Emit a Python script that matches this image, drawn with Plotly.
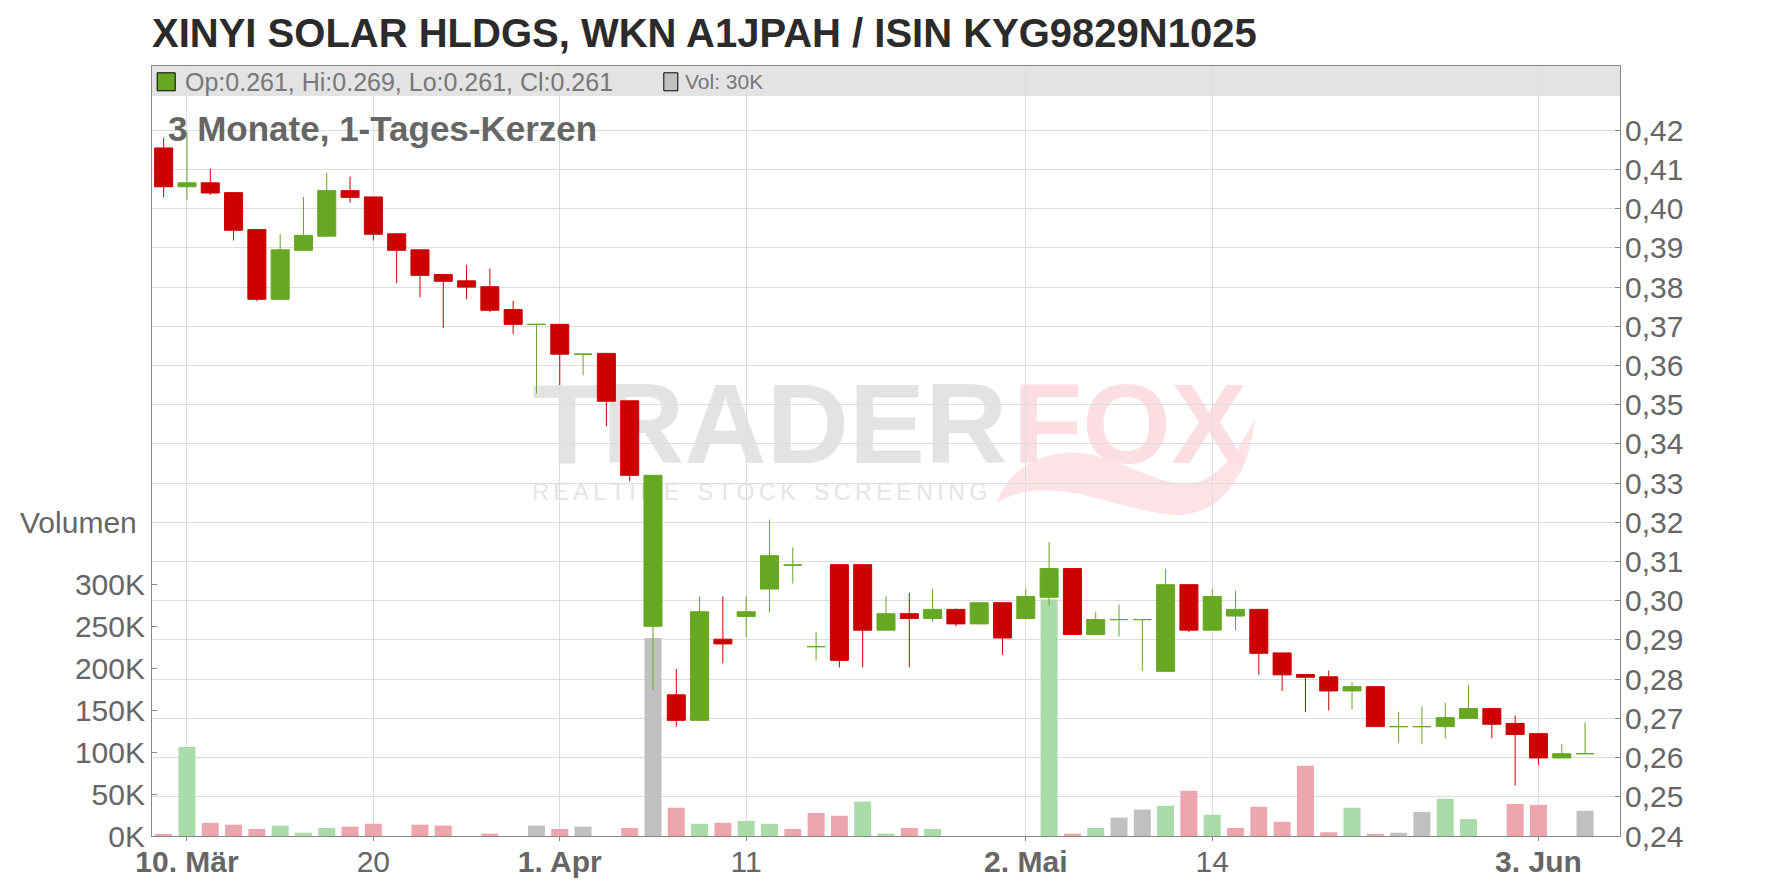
import plotly.graph_objects as go

# ---------------- data ----------------
dates = [
    "2025-03-07", "2025-03-10", "2025-03-11", "2025-03-12", "2025-03-13", "2025-03-14",
    "2025-03-17", "2025-03-18", "2025-03-19", "2025-03-20", "2025-03-21",
    "2025-03-24", "2025-03-25", "2025-03-26", "2025-03-27", "2025-03-28",
    "2025-03-31", "2025-04-01", "2025-04-02", "2025-04-03", "2025-04-04",
    "2025-04-07", "2025-04-08", "2025-04-09", "2025-04-10", "2025-04-11",
    "2025-04-14", "2025-04-15", "2025-04-16", "2025-04-17",
    "2025-04-22", "2025-04-23", "2025-04-24", "2025-04-25",
    "2025-04-28", "2025-04-29", "2025-04-30", "2025-05-02",
    "2025-05-05", "2025-05-06", "2025-05-07", "2025-05-08", "2025-05-09",
    "2025-05-12", "2025-05-13", "2025-05-14", "2025-05-15", "2025-05-16",
    "2025-05-19", "2025-05-20", "2025-05-21", "2025-05-22", "2025-05-23",
    "2025-05-26", "2025-05-27", "2025-05-28", "2025-05-29", "2025-05-30",
    "2025-06-02", "2025-06-03", "2025-06-04", "2025-06-05",
]
open_ = [
    0.4155, 0.4056, 0.4066, 0.4041, 0.3947, 0.3769, 0.3894, 0.3930, 0.4046, 0.4030, 0.3936,
    0.3895, 0.3832, 0.3816, 0.3801, 0.3743, 0.3705, 0.3705, 0.3629, 0.3631, 0.3510,
    0.2935, 0.2760, 0.2695, 0.2902, 0.2960, 0.3030, 0.3091, 0.2883, 0.3092,
    0.3092, 0.2925, 0.2967, 0.2955, 0.2978, 0.2941, 0.2995, 0.2955,
    0.3009, 0.3082, 0.2914, 0.2952, 0.2952, 0.2820, 0.3041, 0.2925, 0.2961, 0.2978,
    0.2867, 0.2812, 0.2806, 0.2770, 0.2781, 0.2679, 0.2679, 0.2679, 0.2700, 0.2725,
    0.2687, 0.2661, 0.2599, 0.261,
]
high = [
    0.4181, 0.4196, 0.4102, 0.4041, 0.3947, 0.3936, 0.4030, 0.4092, 0.4082, 0.4030, 0.3936,
    0.3895, 0.3832, 0.3857, 0.3847, 0.3765, 0.3705, 0.3705, 0.3629, 0.3631, 0.3510,
    0.3320, 0.2826, 0.3011, 0.3011, 0.3011, 0.3207, 0.3136, 0.2921, 0.3092,
    0.3092, 0.3011, 0.3020, 0.3031, 0.2980, 0.2995, 0.2995, 0.3031,
    0.3150, 0.3082, 0.2972, 0.2990, 0.2952, 0.3082, 0.3041, 0.3031, 0.3026, 0.2978,
    0.2867, 0.2812, 0.2822, 0.2791, 0.2781, 0.2717, 0.2730, 0.2740, 0.2785, 0.2725,
    0.2707, 0.2661, 0.2635, 0.269,
]
low = [
    0.4029, 0.4023, 0.4035, 0.3919, 0.3764, 0.3769, 0.3894, 0.3930, 0.4015, 0.3919, 0.3810,
    0.3774, 0.3696, 0.3769, 0.3736, 0.3680, 0.3529, 0.3550, 0.3575, 0.3445, 0.3305,
    0.2773, 0.2679, 0.2695, 0.2840, 0.2908, 0.2970, 0.3044, 0.2848, 0.2830,
    0.2830, 0.2925, 0.2830, 0.2946, 0.2935, 0.2941, 0.2862, 0.2955,
    0.2989, 0.2914, 0.2914, 0.2909, 0.2820, 0.2820, 0.2920, 0.2925, 0.2925, 0.2811,
    0.2770, 0.2716, 0.2720, 0.2723, 0.2679, 0.2638, 0.2634, 0.2649, 0.2700, 0.2649,
    0.2529, 0.2581, 0.2599, 0.261,
]
close = [
    0.4056, 0.4066, 0.4040, 0.3945, 0.3769, 0.3895, 0.3932, 0.4046, 0.4029, 0.3935, 0.3894,
    0.3830, 0.3815, 0.3800, 0.3741, 0.3705, 0.3705, 0.3629, 0.3629, 0.3509, 0.3320,
    0.3320, 0.2695, 0.2972, 0.2890, 0.2972, 0.3115, 0.3091, 0.2883, 0.2848,
    0.2925, 0.2967, 0.2955, 0.2978, 0.2941, 0.2995, 0.2905, 0.3011,
    0.3082, 0.2914, 0.2952, 0.2952, 0.2952, 0.3041, 0.2925, 0.3011, 0.2978, 0.2866,
    0.2811, 0.2805, 0.2770, 0.2781, 0.2679, 0.2679, 0.2679, 0.2702, 0.2725, 0.2685,
    0.2659, 0.2599, 0.2610, 0.261,
]
volume = [
    2000, 106000, 15700, 13500, 8400, 12400, 3900, 9600, 11200, 14600, 0,
    13500, 12400, 0, 2800, 0, 12400, 8400, 11200, 0, 9600,
    236000, 33700, 14600, 15700, 18000, 14600, 8400, 27500, 24200,
    41000, 2800, 9600, 8400, 0, 0, 0, 0,
    282000, 2800, 9600, 21900, 31500, 36000, 53900, 25300, 9600, 34800,
    16900, 83700, 4500, 33700, 1700, 3900, 28700, 44400, 20200, 0,
    38200, 37100, 0, 30000,
]

tick_dates = ["2025-03-10", "2025-03-20", "2025-04-01", "2025-04-11",
              "2025-05-02", "2025-05-14", "2025-06-03"]
tick_labels = ["<b>10. Mär</b>", "20", "<b>1. Apr</b>", "11",
               "<b>2. Mai</b>", "14", "<b>3. Jun</b>"]
price_ticks = [0.24, 0.25, 0.26, 0.27, 0.28, 0.29, 0.30, 0.31, 0.32, 0.33,
               0.34, 0.35, 0.36, 0.37, 0.38, 0.39, 0.40, 0.41, 0.42]
vol_ticks = [0, 50000, 100000, 150000, 200000, 250000, 300000]

title_text = "XINYI SOLAR HLDGS, WKN A1JPAH / ISIN KYG9829N1025"
subtitle_text = "3 Monate, 1-Tages-Kerzen"

# ---------------- styles ----------------
GREEN = "#66a821"
RED = "#cc0000"
VOL_UP = "#aadcaa"
VOL_DOWN = "#eea6ae"
VOL_FLAT = "#c0c0c0"
FONT = "Liberation Sans, Arial, sans-serif"
GRID = "#dddddd"
AXIS = "#888888"
TXT = "#666666"

# page has an 8px body margin -> figure is drawn 8px in from the window corner
OFF = 8
W, H = 1776 - 2 * OFF, 888 - 2 * OFF
PLOT_X0, PLOT_X1 = 152.3, 1620.0      # window pixel coords of plot area
PLOT_Y0, PLOT_Y1 = 65.7, 836.0
L = PLOT_X0 - OFF
R = W - (PLOT_X1 - OFF)
T = PLOT_Y0 - OFF
B = H - (PLOT_Y1 - OFF)


def px(xp):
    return (xp - PLOT_X0) / (PLOT_X1 - PLOT_X0)


def py(yp):
    return (PLOT_Y1 - yp) / (PLOT_Y1 - PLOT_Y0)


# candle groups
up_idx = [i for i in range(len(dates)) if close[i] >= open_[i]]
dn_idx = [i for i in range(len(dates)) if close[i] < open_[i]]

vol_colors = []
for i in range(len(dates)):
    ref = close[i - 1] if i > 0 else open_[i]
    if close[i] > ref:
        vol_colors.append(VOL_UP)
    elif close[i] < ref:
        vol_colors.append(VOL_DOWN)
    else:
        vol_colors.append(VOL_FLAT)

fig = go.Figure()

fig.add_trace(go.Bar(
    x=dates, y=volume, marker=dict(color=vol_colors, line=dict(width=0)),
    yaxis="y", hoverinfo="skip", showlegend=False,
))


def sub(lst, idx):
    return [lst[i] for i in idx]


for idx, col in ((up_idx, GREEN), (dn_idx, RED)):
    fig.add_trace(go.Candlestick(
        x=sub(dates, idx), open=sub(open_, idx), high=sub(high, idx),
        low=sub(low, idx), close=sub(close, idx),
        increasing=dict(line=dict(color=col, width=1), fillcolor=col),
        decreasing=dict(line=dict(color=col, width=1), fillcolor=col),
        whiskerwidth=0, yaxis="y2", showlegend=False,
    ))

annotations = [
    dict(text="<b>%s</b>" % title_text, x=px(150), y=py(33), xref="paper", yref="paper",
         xanchor="left", yanchor="middle", showarrow=False,
         font=dict(family=FONT, size=40, color="#2b2b2b")),
    dict(text="Op:%.3f, Hi:%.3f, Lo:%.3f, Cl:%.3f" % (open_[-1], high[-1], low[-1], close[-1]),
         x=px(183), y=py(81.5), xref="paper", yref="paper",
         xanchor="left", yanchor="middle", showarrow=False,
         font=dict(family=FONT, size=25, color="#777777")),
    dict(text="Vol: %dK" % round(volume[-1] / 1000),
         x=px(683), y=py(81.5), xref="paper", yref="paper",
         xanchor="left", yanchor="middle", showarrow=False,
         font=dict(family=FONT, size=21, color="#777777")),
    dict(text="<b>%s</b>" % subtitle_text, x=px(166), y=py(128), xref="paper", yref="paper",
         xanchor="left", yanchor="middle", showarrow=False,
         font=dict(family=FONT, size=35, color=TXT)),
    dict(text="Volumen", x=px(79), y=py(522), xref="paper", yref="paper",
         xanchor="center", yanchor="middle", showarrow=False,
         font=dict(family=FONT, size=30, color=TXT)),
]


def P(xp, yp):
    return "%.5f,%.5f" % (px(xp), py(yp))


swoosh = ("M " + P(997, 503) + " C " + P(1008, 470) + " " + P(1035, 455) + " " + P(1070, 452)
          + " C " + P(1110, 452) + " " + P(1150, 482) + " " + P(1185, 484)
          + " C " + P(1215, 484) + " " + P(1240, 450) + " " + P(1255, 418)
          + " C " + P(1250, 470) + " " + P(1225, 512) + " " + P(1180, 515)
          + " C " + P(1140, 515) + " " + P(1090, 490) + " " + P(1045, 490)
          + " C " + P(1025, 490) + " " + P(1008, 495) + " " + P(997, 503) + " Z")

spaced = "\u2009\u2009\u2009\u2009".join("\u2009".join(w) for w in ("REALTIME", "STOCK", "SCREENING"))

shapes = [
    # header bar inside plot
    dict(type="rect", xref="paper", yref="paper", x0=0, x1=1, y0=py(95.7), y1=1,
         fillcolor="#e3e3e3", line=dict(width=0), layer="below"),
    # legend squares
    dict(type="rect", xref="paper", yref="paper", x0=px(157.5), x1=px(175.5),
         y0=py(90.5), y1=py(72.5), fillcolor=GREEN, line=dict(color="#000000", width=1),
         layer="above"),
    dict(type="rect", xref="paper", yref="paper", x0=px(664), x1=px(678),
         y0=py(90.5), y1=py(72.5), fillcolor=VOL_FLAT, line=dict(color="#000000", width=1),
         layer="above"),
    # watermark
    dict(type="path", xref="paper", yref="paper", path=swoosh,
         fillcolor="#fde2e6", line=dict(width=0), layer="below"),
    dict(type="rect", xref="paper", yref="paper", x0=px(670), x1=px(870),
         y0=py(454), y1=py(370), fillcolor="rgba(0,0,0,0)", line=dict(width=0),
         layer="below",
         label=dict(text="<b>TRADER</b>", textposition="middle center",
                    font=dict(family=FONT, size=114, color="#e3e3e3"))),
    dict(type="rect", xref="paper", yref="paper", x0=px(1030), x1=px(1230),
         y0=py(454), y1=py(370), fillcolor="rgba(0,0,0,0)", line=dict(width=0),
         layer="below",
         label=dict(text="<b>FOX</b>", textposition="middle center",
                    font=dict(family=FONT, size=114, color="#fcdde1"))),
    dict(type="rect", xref="paper", yref="paper", x0=px(660), x1=px(860),
         y0=py(500), y1=py(480), fillcolor="rgba(0,0,0,0)", line=dict(width=0),
         layer="below",
         label=dict(text=spaced, textposition="middle center",
                    font=dict(family=FONT, size=23, color="#e4e4e4"))),
]

fig.update_layout(
    width=W, height=H,
    margin=dict(l=L, r=R, t=T, b=B, pad=0),
    paper_bgcolor="white", plot_bgcolor="white",
    separators=",.",
    bargap=0.27,
    boxgap=0.227, boxgroupgap=0,
    showlegend=False,
    hovermode=False,
    annotations=annotations,
    shapes=shapes,
    xaxis=dict(
        type="category", categoryorder="array", categoryarray=dates,
        range=[-0.5, 62.5],
        tickmode="array", tickvals=tick_dates, ticktext=tick_labels,
        tickfont=dict(family=FONT, size=30, color=TXT),
        ticks="outside", ticklen=4, tickcolor=AXIS, ticklabelstandoff=-5,
        showgrid=True, gridcolor=GRID, gridwidth=1,
        showline=True, linecolor=AXIS, linewidth=1, mirror=True,
        rangeslider=dict(visible=False), zeroline=False, automargin=False,
    ),
    yaxis=dict(
        side="left", range=[0, 918000],
        tickmode="array", tickvals=vol_ticks,
        ticktext=["%dK" % (v // 1000) for v in vol_ticks],
        tickfont=dict(family=FONT, size=30, color=TXT),
        ticks="inside", ticklen=5, tickcolor=AXIS,
        showgrid=False, zeroline=False, automargin=False,
        showline=True, linecolor=AXIS, linewidth=1,
    ),
    yaxis2=dict(
        overlaying="y", side="right", range=[0.24, 0.4364],
        tickmode="array", tickvals=price_ticks, tickformat=".2f",
        tickfont=dict(family=FONT, size=30, color=TXT),
        ticks="inside", ticklen=5, tickcolor=AXIS, ticklabelstandoff=-2,
        showgrid=True, gridcolor=GRID, gridwidth=1, zeroline=False, automargin=False,
        showline=True, linecolor=AXIS, linewidth=1,
    ),
)

fig.write_html("out.html")
